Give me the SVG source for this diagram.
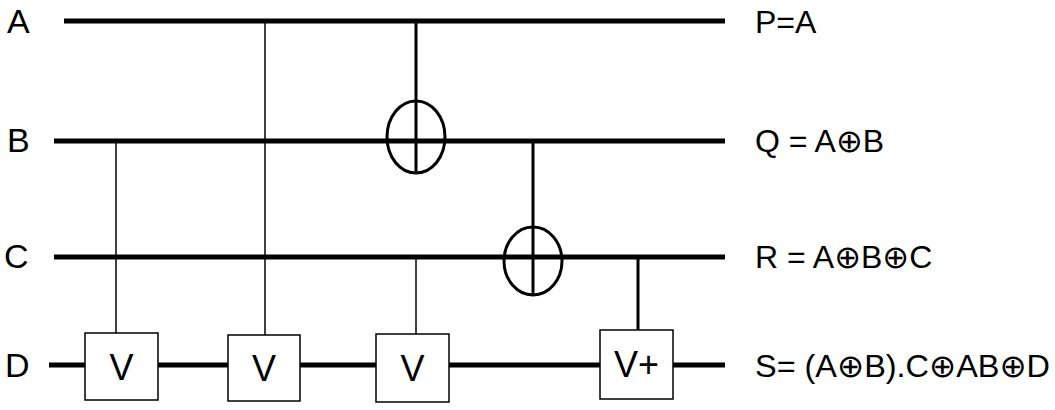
<svg xmlns="http://www.w3.org/2000/svg" width="1055" height="410" viewBox="0 0 1055 410">
<style>
.w{stroke:#000;stroke-width:5;fill:none}
.t{stroke:#000;stroke-width:1.5;fill:none}
.k{stroke:#000;stroke-width:3;fill:none}
.b{stroke:#000;stroke-width:1.5;fill:#fff}
text{font-family:"Liberation Sans","DejaVu Sans",sans-serif;font-size:32px;fill:#000}
.l{font-size:34px}
.v{font-size:36px}
</style>
<rect width="1055" height="410" fill="#fff"/>
<g id="labels">
<text class="l" x="7" y="33">A</text>
<text class="l" x="7" y="152">B</text>
<text class="l" x="4" y="268">C</text>
<text class="l" x="5" y="377">D</text>
<text x="755" y="33">P=A</text>
<text x="755" y="152">Q = A⊕B</text>
<text x="755" y="268">R = A⊕B⊕C</text>
<text x="755" y="377" textLength="295" lengthAdjust="spacingAndGlyphs">S= (A⊕B).C⊕AB⊕D</text>
</g>
<g id="connectors">
<line class="w" x1="64" y1="21" x2="725" y2="21"/>
<line class="w" x1="54" y1="141" x2="725" y2="141"/>
<line class="w" x1="54" y1="257" x2="725" y2="257"/>
<line class="w" x1="49" y1="365" x2="725" y2="365"/>
<line class="t" x1="116" y1="141" x2="116" y2="333"/>
<line class="t" x1="265" y1="21" x2="265" y2="335"/>
<line class="t" x1="416" y1="257" x2="416" y2="334"/>
<line class="k" x1="416" y1="21" x2="416" y2="173"/>
<line class="k" x1="533" y1="141" x2="533" y2="295"/>
<line class="k" x1="638" y1="257" x2="638" y2="330"/>
</g>
<g id="xor1"><ellipse class="k" cx="416" cy="137" rx="29" ry="36"/></g>
<g id="xor2"><ellipse class="k" cx="533" cy="261" rx="29" ry="34"/></g>
<g id="v1"><rect class="b" x="85" y="333" width="73" height="67"/><text class="v" x="121.5" y="380" text-anchor="middle">V</text></g>
<g id="v2"><rect class="b" x="228" y="335" width="72" height="66"/><text class="v" x="264" y="381" text-anchor="middle">V</text></g>
<g id="v3"><rect class="b" x="376" y="334" width="73" height="68"/><text class="v" x="412.5" y="381" text-anchor="middle">V</text></g>
<g id="v4"><rect class="b" x="600" y="330" width="73" height="69"/><text class="v" x="636.5" y="377" text-anchor="middle">V+</text></g>
</svg>
